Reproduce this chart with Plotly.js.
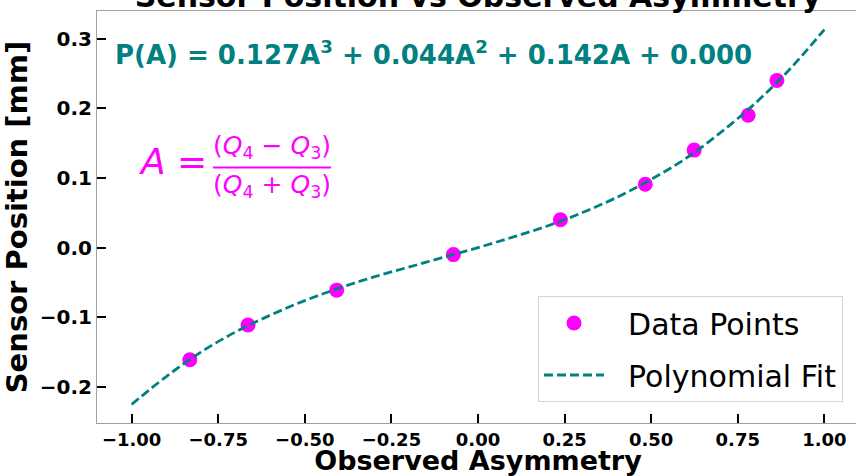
<!DOCTYPE html>
<html>
<head>
<meta charset="utf-8">
<script src="https://cdn.plot.ly/plotly-3.0.1.min.js"></script>
<style>
html,body{margin:0;padding:0;overflow:hidden;background:#fff;}
#chart{width:860px;height:476px;}
</style>
</head>
<body>
<div id="chart"></div>
<script>
// Observed data points
const asymmetry = [-0.832, -0.664, -0.408, -0.071, 0.238, 0.483, 0.624, 0.780, 0.863];
const position  = [-0.161, -0.111, -0.061, -0.010, 0.040, 0.091, 0.140, 0.190, 0.240];

// Polynomial fit curve
const fitA = [-1.0, -0.9, -0.8, -0.7, -0.6, -0.5, -0.4, -0.3, -0.2, -0.1, 0.0,
              0.1, 0.2, 0.3, 0.4, 0.5, 0.6, 0.7, 0.8, 0.9, 1.0];
const fitP = [-0.225, -0.185, -0.150, -0.121, -0.097, -0.076, -0.058, -0.042, -0.028, -0.014, 0.000,
              0.015, 0.031, 0.050, 0.072, 0.098, 0.128, 0.165, 0.207, 0.256, 0.313];

const xTicks = [-1.0, -0.75, -0.5, -0.25, 0.0, 0.25, 0.5, 0.75, 1.0];
const yTicks = [-0.2, -0.1, 0.0, 0.1, 0.2, 0.3];

const titleText = 'Sensor Position vs Observed Asymmetry';
const xTitle = 'Observed Asymmetry';
const yTitle = 'Sensor Position [mm]';
const fitEquation = 'P(A) = 0.127A<sup>3</sup> + 0.044A<sup>2</sup> + 0.142A + 0.000';

const W = 860, H = 476;
const M = {l: 97, r: 1, t: 11, b: 53};
const pw = W - M.l - M.r, ph = H - M.t - M.b;
const px = v => (v - M.l) / pw;
const py = v => (H - M.b - v) / ph;

const FONT = 'DejaVu Sans, Verdana, sans-serif';
const TEAL = '#008080';
const MAG = '#ff00ff';

const traces = [
  {
    x: asymmetry, y: position, type: 'scatter', mode: 'markers', name: '  Data Points',
    marker: {color: MAG, size: 15}, legendgroup: 'a'
  },
  {
    x: fitA, y: fitP, type: 'scatter', mode: 'lines', name: '  Polynomial Fit',
    line: {color: TEAL, width: 2.8, dash: '9px,4px', shape: 'spline'}, legendgroup: 'b'
  }
];

const layout = {
  width: W, height: H,
  margin: M,
  paper_bgcolor: '#fff', plot_bgcolor: '#fff',
  font: {family: FONT, color: '#000'},
  showlegend: true,
  title: {
    text: titleText, font: {family: FONT, size: 30, weight: 'bold', color: '#000'},
    xref: 'paper', x: 0.5, xanchor: 'center', yref: 'paper', y: 1, yanchor: 'bottom',
    pad: {b: 4}
  },
  xaxis: {
    range: [-1.1, 1.1], tickvals: xTicks, tickformat: '.2f',
    ticks: 'inside', ticklen: 9, tickwidth: 2, tickcolor: '#000',
    showline: true, mirror: true, linecolor: '#a0a0a0', linewidth: 1,
    showgrid: false, zeroline: false,
    tickfont: {family: FONT, size: 18, weight: 'bold', color: '#000'},
    title: {text: xTitle, font: {family: FONT, size: 27, weight: 'bold', color: '#000'}, standoff: 4},
    automargin: false
  },
  yaxis: {
    range: [-0.2517, 0.3396], tickvals: yTicks, tickformat: '.1f',
    ticks: 'inside', ticklen: 9, tickwidth: 2, tickcolor: '#000',
    showline: true, mirror: true, linecolor: '#a0a0a0', linewidth: 1,
    showgrid: false, zeroline: false,
    tickfont: {family: FONT, size: 20, weight: 'bold', color: '#000'},
    title: {text: yTitle, font: {family: FONT, size: 29, weight: 'bold', color: '#000'}, standoff: 4},
    automargin: false
  },
  legend: {
    x: px(843), y: py(402), xanchor: 'right', yanchor: 'bottom',
    bgcolor: 'rgba(255,255,255,0.8)', bordercolor: '#d5d5d5', borderwidth: 1,
    font: {family: FONT, size: 30, color: '#000'},
    itemwidth: 60, tracegroupgap: 10, traceorder: 'grouped'
  },
  annotations: [
    {
      text: fitEquation, xref: 'paper', yref: 'paper', x: px(113), y: py(53),
      xanchor: 'left', yanchor: 'middle', showarrow: false,
      font: {family: FONT, size: 26, weight: 'bold', color: TEAL}
    },
    {
      text: '<i>A</i> =', xref: 'paper', yref: 'paper', x: px(137), y: py(162),
      xanchor: 'left', yanchor: 'middle', showarrow: false,
      font: {family: FONT, size: 36, color: MAG}
    },
    {
      text: '(<i>Q</i><sub>4</sub> − <i>Q</i><sub>3</sub>)', xref: 'paper', yref: 'paper', x: px(272), y: py(147),
      xanchor: 'center', yanchor: 'middle', showarrow: false,
      font: {family: FONT, size: 25, color: MAG}
    },
    {
      text: '(<i>Q</i><sub>4</sub> + <i>Q</i><sub>3</sub>)', xref: 'paper', yref: 'paper', x: px(272), y: py(186),
      xanchor: 'center', yanchor: 'middle', showarrow: false,
      font: {family: FONT, size: 25, color: MAG}
    }
  ],
  shapes: [
    {type: 'line', xref: 'paper', yref: 'paper', x0: px(213), x1: px(331), y0: py(167.5), y1: py(167.5),
     line: {color: MAG, width: 2}}
  ]
};

Plotly.newPlot('chart', traces, layout, {displayModeBar: false, staticPlot: true});
</script>
</body>
</html>
